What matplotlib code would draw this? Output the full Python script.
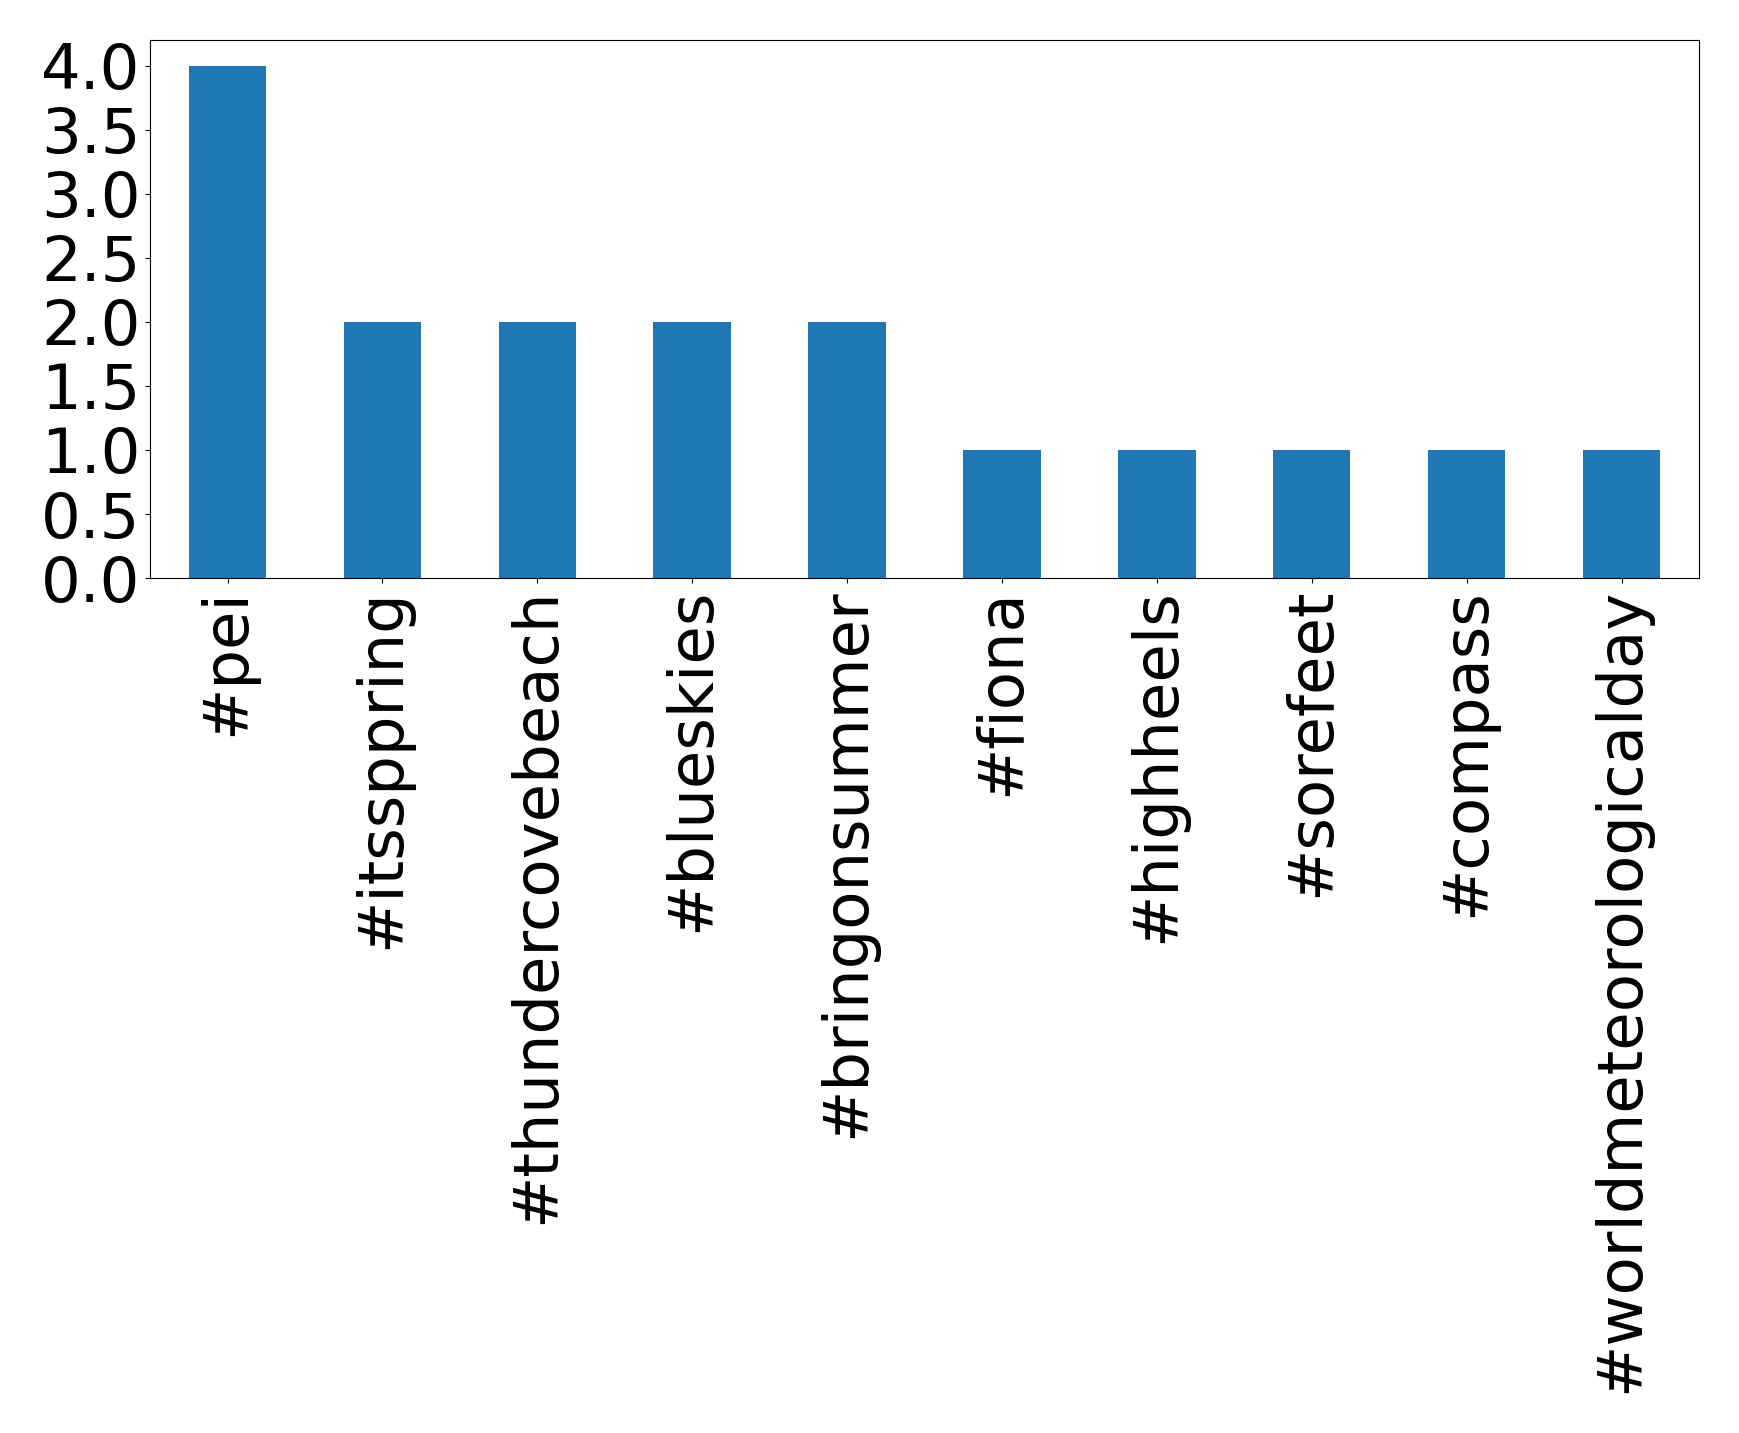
import matplotlib
matplotlib.use("Agg")
import matplotlib.pyplot as plt
import numpy as np
import pandas as pd

hashtags = ['#pei', '#itssppring', '#thundercovebeach', '#blueskies', '#bringonsummer',
            '#fiona', '#highheels', '#sorefeet', '#compass', '#worldmeteorologicalday']
counts = [4, 2, 2, 2, 2, 1, 1, 1, 1, 1]

s = pd.Series(counts, index=hashtags)

fig = plt.figure(figsize=(17.39, 14.33), dpi=100)
ax = fig.add_axes([0.0863, 0.5966, 0.8907, 0.3754])
s.plot(kind='bar', ax=ax, color='#1f77b4', fontsize=45)
ax.set_yticks(np.arange(0, 4.01, 0.5))
ax.set_yticklabels(['%.1f' % v for v in np.arange(0, 4.01, 0.5)])
ax.tick_params(axis='both', labelsize=45)

fig.savefig('out.png', dpi=100)
